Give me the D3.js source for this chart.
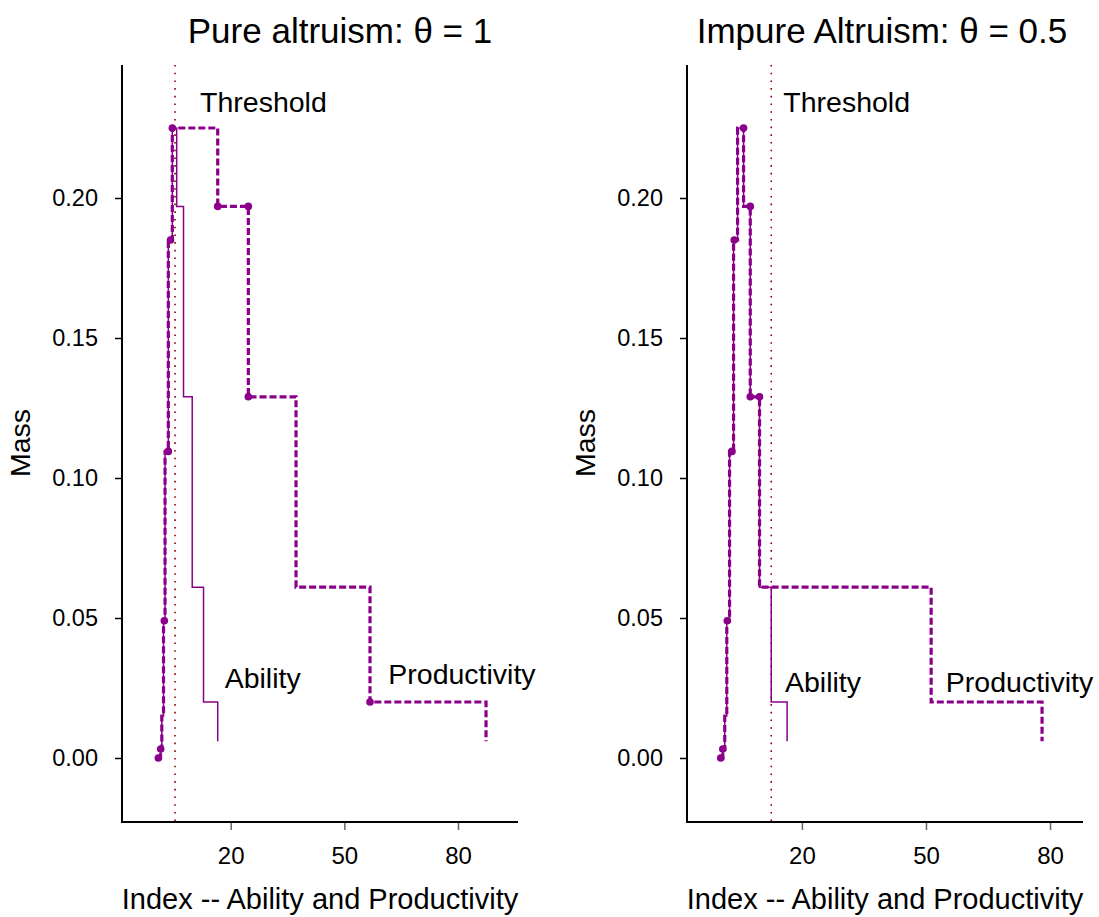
<!DOCTYPE html>
<html>
<head>
<meta charset="utf-8">
<script src="https://cdn.jsdelivr.net/npm/d3@7"></script>
<style>
  html, body { margin: 0; padding: 0; background: #fff; }
  svg { display: block; }
  text { font-family: "Liberation Sans", Arial, sans-serif; fill: #000; }
</style>
</head>
<body>
<svg id="chart" width="1099" height="917"></svg>
<script>
// ---------- DATA ----------
const massLevels = [0.000, 0.0032, 0.015, 0.049, 0.1095, 0.185, 0.225, 0.197, 0.129, 0.061, 0.020, 0.006];

// Left panel (pure altruism, theta = 1)
const leftProdX    = [0.89, 1.47, 1.81, 2.26, 2.66, 3.53, 4.58, 16.57, 24.65, 37.24, 56.77, 87.40];
const leftAbilityX = [0.89, 1.47, 1.81, 2.26, 2.66, 3.53, 4.58, 5.74, 7.54, 9.84, 12.82, 16.57];
const leftDotX     = [0.89, 1.52, 2.47, 3.53, 4.11, 4.58, 16.57, 24.65, 24.65, 56.77];
const leftDotY     = [0.000, 0.0032, 0.049, 0.1095, 0.185, 0.225, 0.197, 0.197, 0.129, 0.020];
const leftThreshold = 5.30;

// Right panel (impure altruism, theta = 0.5)
const rightProdX    = [0.38, 0.86, 1.34, 1.83, 2.50, 3.47, 4.44, 5.89, 7.51, 9.75, 51.25, 78.07];
const rightAbilityX = [0.38, 0.86, 1.34, 1.83, 2.50, 3.47, 4.44, 5.89, 7.51, 9.75, 12.58, 16.42];
const rightDotX     = [0.38, 0.86, 1.95, 3.08, 3.64, 5.89, 7.51, 7.51, 9.75];
const rightDotY     = [0.000, 0.0032, 0.049, 0.1095, 0.185, 0.225, 0.197, 0.129, 0.129];
const rightThreshold = 12.58;

const yTicks = [0.00, 0.05, 0.10, 0.15, 0.20];
const xTicks = [20, 50, 80];

const titles = ["Pure altruism: \u03B8 = 1", "Impure Altruism: \u03B8 = 0.5"];
const xLabel = "Index -- Ability and Productivity";
const yLabel = "Mass";

// ---------- LAYOUT ----------
const svg = d3.select("#chart");
const purple = "#8B008B";
const darkred = "#8B0000";
const yDomain = [-0.02286, 0.2475];
const yRange = [822, 65];

const panels = [
  { title: titles[0], xDomain: [-8.7, 95.84], xRange: [122, 518], titleX: 340,
    prodX: leftProdX, abilX: leftAbilityX, dotX: leftDotX, dotY: leftDotY, thr: leftThreshold,
    labels: [ {t: "Threshold", x: 11.9, y: 0.2335}, {t: "Ability", x: 18.4, y: 0.0277}, {t: "Productivity", x: 61.6, y: 0.0292} ] },
  { title: titles[1], xDomain: [-7.79, 87.97], xRange: [687, 1083], titleX: 882,
    prodX: rightProdX, abilX: rightAbilityX, dotX: rightDotX, dotY: rightDotY, thr: rightThreshold,
    labels: [ {t: "Threshold", x: 15.5, y: 0.2335}, {t: "Ability", x: 15.9, y: 0.0264}, {t: "Productivity", x: 54.8, y: 0.0262} ] }
];

panels.forEach(p => {
  const x = d3.scaleLinear().domain(p.xDomain).range(p.xRange);
  const y = d3.scaleLinear().domain(yDomain).range(yRange);
  const g = svg.append("g");

  // title
  g.append("text")
    .attr("x", p.titleX)
    .attr("y", 43)
    .attr("text-anchor", "middle")
    .style("font-size", "35px")
    .text(p.title);

  // threshold
  g.append("line")
    .attr("x1", x(p.thr)).attr("x2", x(p.thr))
    .attr("y1", yRange[1]).attr("y2", yRange[0])
    .attr("stroke", darkred).attr("stroke-width", 1.6)
    .attr("stroke-dasharray", "1.6,6.1");

  const line = d3.line().x(d => x(d[0])).y(d => y(d[1])).curve(d3.curveStepAfter);

  // ability (solid)
  g.append("path")
    .datum(p.abilX.map((v, i) => [v, massLevels[i]]))
    .attr("d", line)
    .attr("fill", "none").attr("stroke", purple).attr("stroke-width", 1.5);

  // productivity (dashed)
  g.append("path")
    .datum(p.prodX.map((v, i) => [v, massLevels[i]]))
    .attr("d", line)
    .attr("fill", "none").attr("stroke", purple).attr("stroke-width", 3.2)
    .attr("stroke-dasharray", "7,3");

  // dots
  g.selectAll("circle.dot")
    .data(p.dotX.map((v, i) => [v, p.dotY[i]]))
    .enter().append("circle")
    .attr("class", "dot")
    .attr("cx", d => x(d[0])).attr("cy", d => y(d[1]))
    .attr("r", 3.8).attr("fill", purple);

  // annotations
  p.labels.forEach(l => {
    g.append("text")
      .attr("x", x(l.x)).attr("y", y(l.y))
      .attr("dominant-baseline", "middle")
      .style("font-size", "28.5px")
      .text(l.t);
  });

  // y axis
  const yAxis = d3.axisLeft(y).tickValues(yTicks).tickFormat(d3.format(".2f")).tickSize(7).tickPadding(17);
  const ya = g.append("g").attr("transform", `translate(${p.xRange[0]},0)`).call(yAxis);
  ya.select(".domain").remove();
  ya.selectAll(".tick line").attr("stroke", "#000").attr("stroke-width", 1.5);
  ya.selectAll(".tick text").style("font-size", "23.5px").attr("fill", "#000")
    .style("font-family", '"Liberation Sans", Arial, sans-serif');

  // x axis
  const xAxis = d3.axisBottom(x).tickValues(xTicks).tickSize(8).tickPadding(17);
  const xa = g.append("g").attr("transform", `translate(0,${yRange[0]})`).call(xAxis);
  xa.select(".domain").remove();
  xa.selectAll(".tick line").attr("stroke", "#666").attr("stroke-width", 1.5);
  xa.selectAll(".tick text").style("font-size", "24px").attr("fill", "#000")
    .style("font-family", '"Liberation Sans", Arial, sans-serif');

  // L-shaped axis frame
  g.append("path")
    .attr("d", `M${p.xRange[0]},${yRange[1]}V${yRange[0]}H${p.xRange[1]}`)
    .attr("fill", "none").attr("stroke", "#000").attr("stroke-width", 2);

  // axis titles
  g.append("text")
    .attr("x", (p.xRange[0] + p.xRange[1]) / 2)
    .attr("y", 909)
    .attr("text-anchor", "middle")
    .style("font-size", "29px")
    .text(xLabel);

  g.append("text")
    .attr("transform", `translate(${p.xRange[0] - 92},443) rotate(-90)`)
    .attr("text-anchor", "middle")
    .style("font-size", "28.5px")
    .text(yLabel);
});
</script>
</body>
</html>
